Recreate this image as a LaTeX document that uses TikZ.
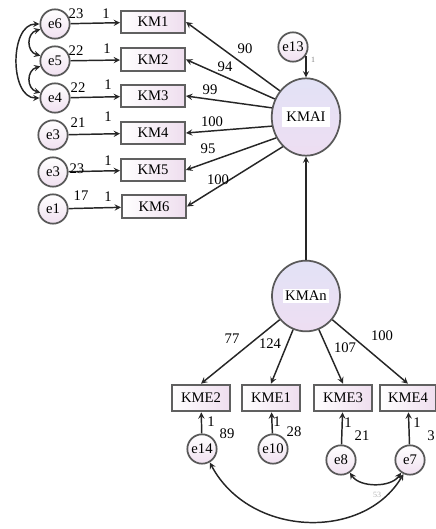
\documentclass[tikz,border=0pt]{standalone}
\usepackage{fontspec}
\setmainfont{Liberation Serif}
\usetikzlibrary{shapes.geometric,arrows}

\tikzset{
	txt/.style={font=\fontsize{11}{12}\selectfont},
	obs/.style={txt, draw=gray!75!black, line width=1.5pt, left color=white, middle color=white, right color=violet!13, minimum width=48pt, minimum height=17pt, inner sep=1pt},
	obsb/.style={obs, minimum width=44pt, minimum height=20pt},
	err/.style={txt, circle, draw=gray!70!black, line width=1.3pt, top color=white, bottom color=violet!12, minimum size=22pt, inner sep=0pt},
	lat/.style={txt, ellipse, draw=gray!70!black, line width=1.3pt, top color={rgb,255:red,226;green,226;blue,246}, bottom color={rgb,255:red,238;green,222;blue,242}, inner sep=0pt},
	link/.style={->, draw=gray!30!black, line width=1.1pt},
	cov/.style={<->, draw=gray!30!black, line width=1.1pt},
	num/.style={txt, inner sep=0pt},
}

\begin{document}
\begin{tikzpicture}[x=0.75pt, y=-0.75pt, >=stealth]
	\useasboundingbox (0,0) rectangle (436,529);

	% indicators of KMAI
	\node[obs] (KM1) at (153,22) {KM1};
	\node[obs] (KM2) at (153,59.5) {KM2};
	\node[obs] (KM3) at (153,96) {KM3};
	\node[obs] (KM4) at (153,133) {KM4};
	\node[obs] (KM5) at (153,170) {KM5};
	\node[obs] (KM6) at (154,206.5) {KM6};

	\node[err] (e6) at (55,24) {e6};
	\node[err] (e5) at (55,61) {e5};
	\node[err] (e4) at (55,98) {e4};
	\node[err] (e3a) at (53,135) {e3};
	\node[err] (e3b) at (53,172) {e3};
	\node[err] (e1) at (53,209) {e1};

	% latent factors
	\node[lat, minimum width=50pt, minimum height=58pt] (KMAI) at (306,117) {\fboxsep=3.5pt\colorbox{white}{KMAI}};
	\node[err] (e13) at (293,47) {e13};
	\node[lat, minimum width=51pt, minimum height=53pt] (KMAn) at (306,296) {\fboxsep=1.5pt\colorbox{white}{KMAn}};

	% indicators of KMAn
	\node[obsb] (KME2) at (201,398) {KME2};
	\node[obsb] (KME1) at (271,398) {KME1};
	\node[obsb] (KME3) at (343,398) {KME3};
	\node[obsb, minimum width=42pt] (KME4) at (408,398) {KME4};

	\node[err] (e14) at (202,449) {e14};
	\node[err] (e10) at (273,449) {e10};
	\node[err] (e8) at (341,460) {e8};
	\node[err] (e7) at (410,460) {e7};

	% error terms
	\draw[link] (e6) -- (KM1);
	\draw[link] (e5) -- (KM2);
	\draw[link] (e4) -- (KM3);
	\draw[link] (e3a) -- (KM4);
	\draw[link] (e3b) -- (KM5);
	\draw[link] (e1) -- (KM6);
	\draw[link] (e14) -- (KME2);
	\draw[link] (e10) -- (KME1);
	\draw[link] (e8) -- (KME3);
	\draw[link] (e7) -- (KME4);
	\draw[link] (e13.-40) -- (KMAI.north |- e13.-40) -- (KMAI.north);

	% loadings
	\draw[link] (KMAI.135) -- (KM1.east);
	\draw[link] (KMAI.150) -- (KM2.east);
	\draw[link] (KMAI.165) -- (KM3.east);
	\draw[link] (KMAI.195) -- (KM4.east);
	\draw[link] (KMAI.215) -- (KM5.east);
	\draw[link] (KMAI.232) -- (KM6.east);
	\draw[link] (KMAn) -- (KMAI);
	\draw[link] (KMAn.222) -- (KME2.north);
	\draw[link] (KMAn.249) -- (KME1.north);
	\draw[link] (KMAn.291) -- (KME3.north);
	\draw[link] (KMAn.318) -- (KME4.north);

	% covariances
	\draw[cov] (e6.west) .. controls +(-30,0) and +(-30,0) .. (e4.west);
	\draw[cov] (e6.200) .. controls +(-14,4) and +(-14,-4) .. (e5.160);
	\draw[cov] (e5.200) .. controls +(-14,4) and +(-14,-4) .. (e4.160);
	\draw[cov] (e8.-55) .. controls +(10,15) and +(-10,15) .. (e7.-125);
	\draw[cov] (e14.-60) .. controls +(40,75) and +(-40,67) .. (e7.-115);

	% estimates
	\node[num] (v6) at (76,14) {23};
	\node[num] (v5) at (76,51) {22};
	\node[num] (v4) at (78,88) {22};
	\node[num] (v3a) at (78,123) {21};
	\node[num] (v3b) at (77,169) {23};
	\node[num] (v1) at (81,196) {17};
	\node[num] (f6) at (106,14) {1};
	\node[num] (f5) at (107,49) {1};
	\node[num] (f4) at (108,85) {1};
	\node[num] (f3a) at (108,117) {1};
	\node[num] (f3b) at (108,161) {1};
	\node[num] (f1) at (108,197) {1};

	\node[num] (l1) at (245,49) {90};
	\node[num] (l2) at (225,67) {94};
	\node[num] (l3) at (210,90) {99};
	\node[num] (l4) at (212,122) {100};
	\node[num] (l5) at (208,149) {95};
	\node[num] (l6) at (218,180) {100};
	\node[num, font=\fontsize{6}{7}\selectfont, text=gray] (f13) at (313,60) {1};

	\node[num] (m2) at (232,339) {77};
	\node[num] (m1) at (270,344) {124};
	\node[num] (m3) at (345,348) {107};
	\node[num] (m4) at (382,336) {100};

	\node[num] (f14) at (211,422) {1};
	\node[num] (v14) at (227,434) {89};
	\node[num] (f10) at (277,422) {1};
	\node[num] (v10) at (294,432) {28};
	\node[num] (f8) at (348,423) {1};
	\node[num] (v8) at (362,436) {21};
	\node[num] (f7) at (417,423) {1};
	\node[num] (v7) at (431,436) {3};
	\node[num, font=\fontsize{6}{7}\selectfont, text=gray!60] (c87) at (377,495) {53};
\end{tikzpicture}
\end{document}
